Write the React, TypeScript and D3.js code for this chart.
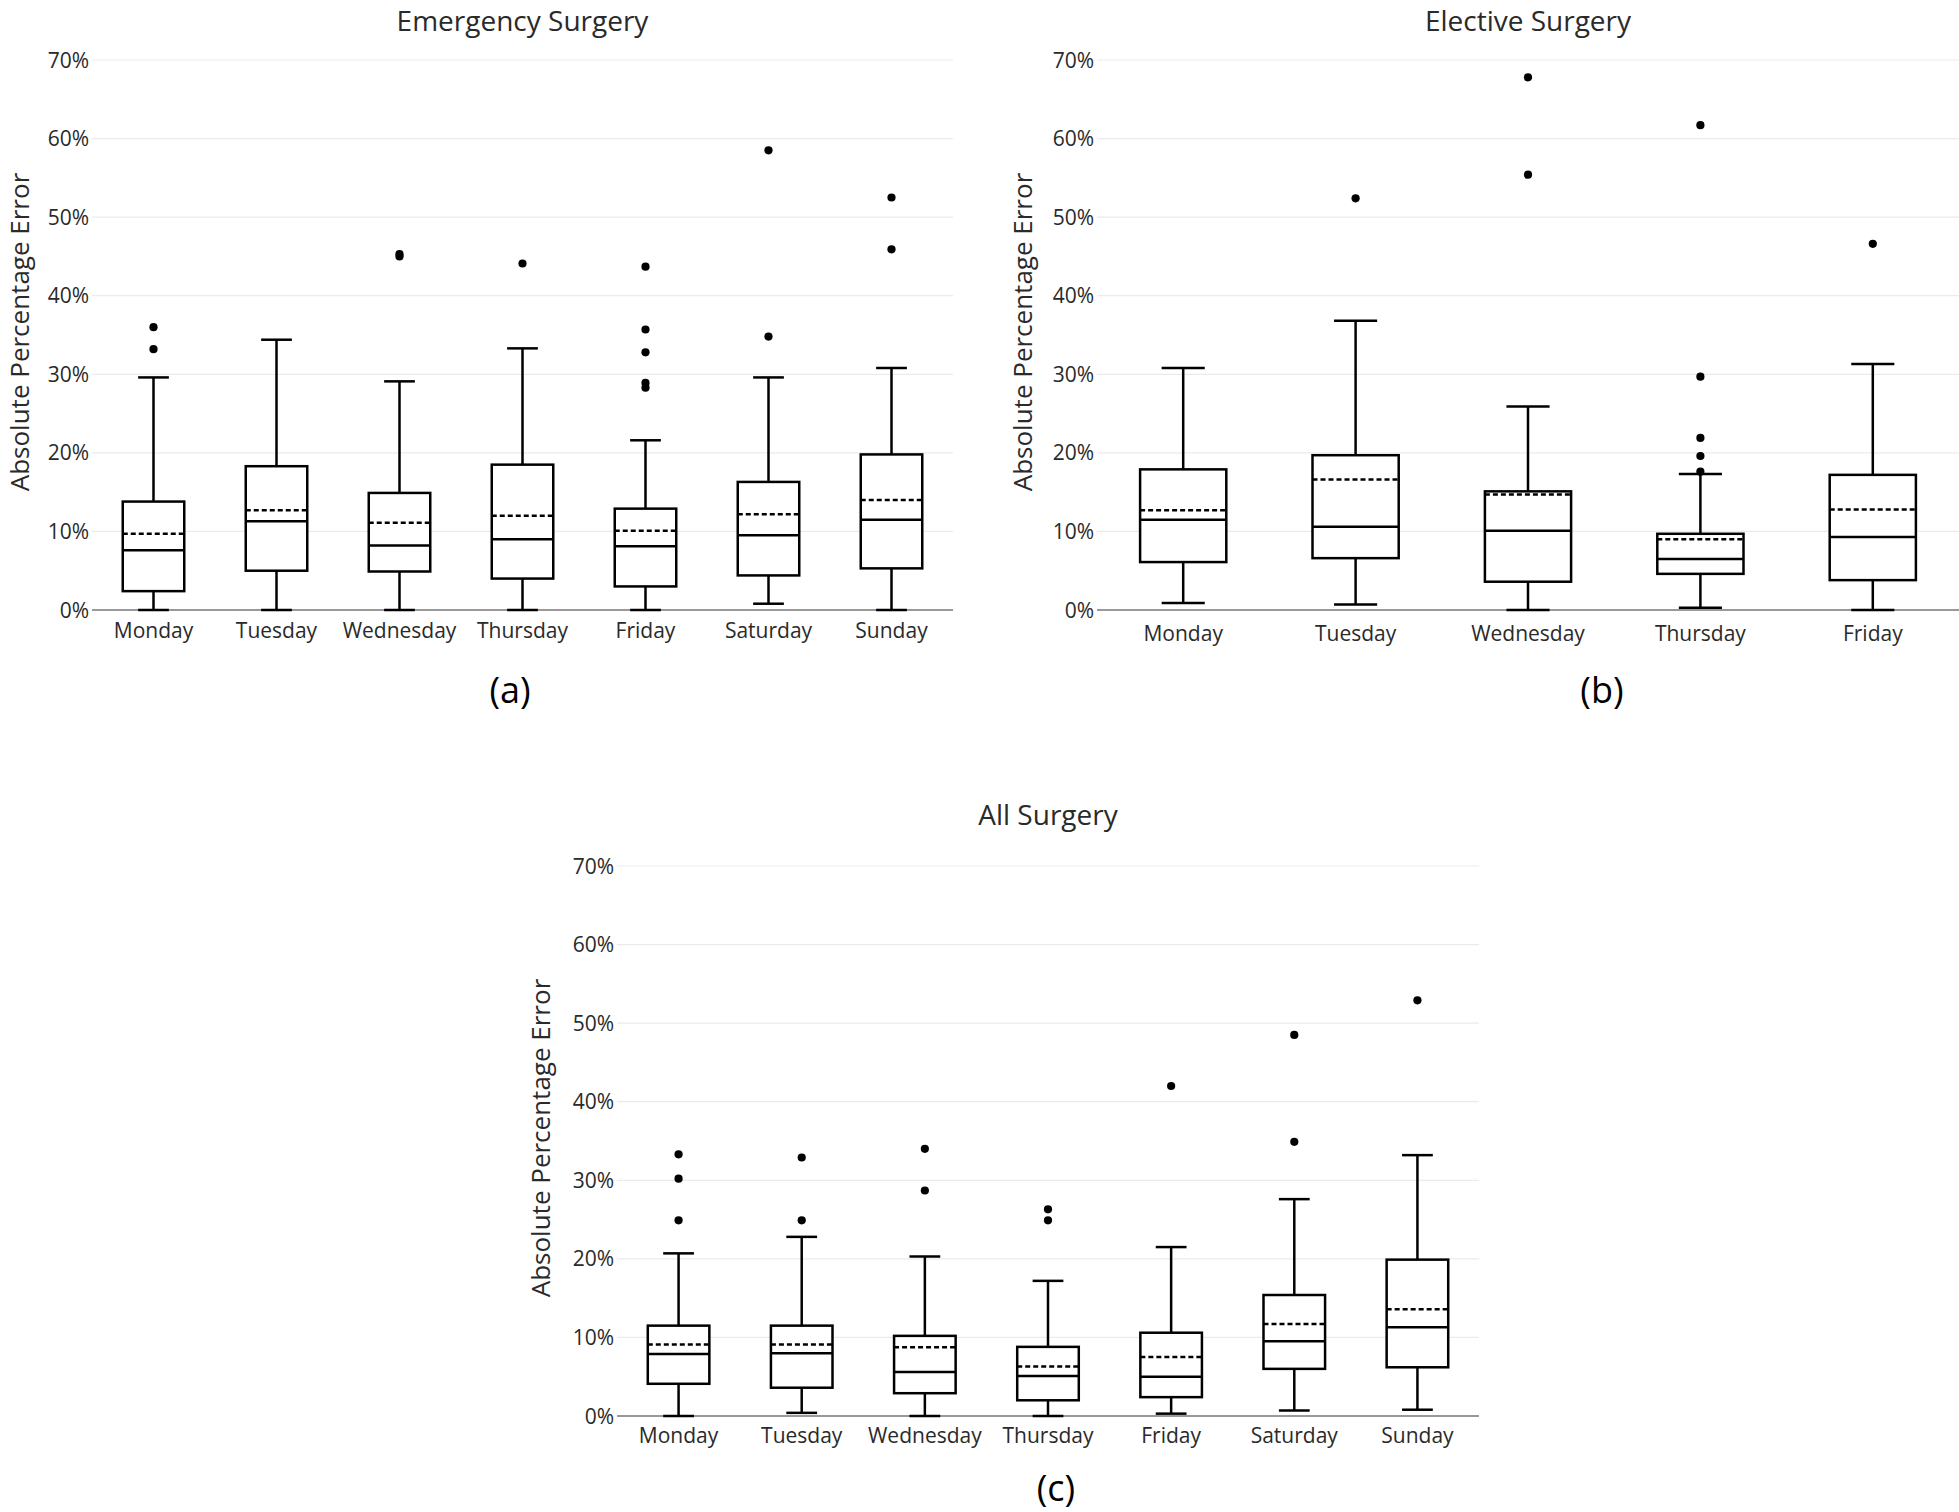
import React from "react";
import * as d3 from "d3";

// ---------- data ----------
const days7 = ["Monday", "Tuesday", "Wednesday", "Thursday", "Friday", "Saturday", "Sunday"];
const days5 = ["Monday", "Tuesday", "Wednesday", "Thursday", "Friday"];
const yTicks = [0, 10, 20, 30, 40, 50, 60, 70];

// Emergency surgery
const emLow = [0, 0, 0, 0, 0, 0.8, 0];
const emQ1 = [2.4, 5.0, 4.9, 4.0, 3.0, 4.4, 5.3];
const emMed = [7.6, 11.3, 8.2, 9.0, 8.1, 9.5, 11.5];
const emQ3 = [13.8, 18.3, 14.9, 18.5, 12.9, 16.3, 19.8];
const emHigh = [29.6, 34.4, 29.1, 33.3, 21.6, 29.6, 30.8];
const emMean = [9.7, 12.7, 11.1, 12.0, 10.1, 12.2, 14.0];
const emOut = [[36.0, 33.2], [], [45.0, 45.3], [44.1], [43.7, 35.7, 32.8, 28.9, 28.3], [58.5, 34.8], [52.5, 45.9]];

// Elective surgery
const elLow = [0.9, 0.7, 0, 0.3, 0];
const elQ1 = [6.1, 6.6, 3.6, 4.6, 3.8];
const elMed = [11.5, 10.6, 10.1, 6.5, 9.3];
const elQ3 = [17.9, 19.7, 15.1, 9.7, 17.2];
const elHigh = [30.8, 36.8, 25.9, 17.3, 31.3];
const elMean = [12.7, 16.6, 14.7, 9.0, 12.8];
const elOut = [[], [52.4], [67.8, 55.4], [61.7, 29.7, 21.9, 19.6, 17.6], [46.6]];

// All surgery
const alLow = [0, 0.4, 0, 0, 0.3, 0.7, 0.8];
const alQ1 = [4.1, 3.6, 2.9, 2.0, 2.4, 6.0, 6.2];
const alMed = [7.9, 8.0, 5.6, 5.1, 5.0, 9.5, 11.3];
const alQ3 = [11.5, 11.5, 10.2, 8.8, 10.6, 15.4, 19.9];
const alHigh = [20.7, 22.8, 20.3, 17.2, 21.5, 27.6, 33.2];
const alMean = [9.1, 9.1, 8.75, 6.3, 7.5, 11.7, 13.6];
const alOut = [[33.3, 30.2, 24.9], [32.9, 24.9], [34.0, 28.7], [26.3, 24.9], [42.0], [48.5, 34.9], [52.9]];

const FONT = "'Open Sans', sans-serif";
const TXT = "#2a2a2a";

type PanelProps = {
  title: string;
  label: string;
  cats: string[];
  low: number[];
  q1: number[];
  med: number[];
  q3: number[];
  high: number[];
  mean: number[];
  out: number[][];
  left: number;
  right: number;
  top: number;
  bottom: number;
  titleY: number;
  axisTitleX: number;
  catY: number;
  labelX: number;
  labelY: number;
};

function Panel(p: PanelProps) {
  const x = d3.scaleBand<string>().domain(p.cats).range([p.left, p.right]).paddingInner(0).paddingOuter(0);
  const y = d3.scaleLinear().domain([0, 70]).range([p.bottom, p.top]);
  const bw = x.bandwidth();
  const boxW = bw * 0.5;
  const capW = bw * 0.25;
  return (
    <g>
      {yTicks.filter((t) => t > 0).map((t) => (
        <line key={"g" + t} x1={p.left} x2={p.right} y1={y(t)} y2={y(t)} stroke="#ebebeb" strokeWidth={1.2} />
      ))}
      {yTicks.map((t) => (
        <text key={"t" + t} x={p.left - 3} y={y(t)} dy="0.36em" textAnchor="end" fontFamily={FONT} fontSize={21} fill={TXT}>
          {t + "%"}
        </text>
      ))}
      {p.cats.map((c) => (
        <text key={"c" + c} x={(x(c) as number) + bw / 2} y={p.catY} textAnchor="middle" fontFamily={FONT} fontSize={21} fill={TXT}>
          {c}
        </text>
      ))}
      <line x1={p.left} x2={p.right} y1={y(0)} y2={y(0)} stroke="#777" strokeWidth={1.6} />
      {p.cats.map((c, i) => {
        const cx = (x(c) as number) + bw / 2;
        return (
          <g key={"b" + c} stroke="#000" strokeWidth={2.5} fill="none">
            <line x1={cx} x2={cx} y1={y(p.q3[i])} y2={y(p.high[i])} />
            <line x1={cx} x2={cx} y1={y(p.q1[i])} y2={y(p.low[i])} />
            <line x1={cx - capW / 2} x2={cx + capW / 2} y1={y(p.high[i])} y2={y(p.high[i])} />
            <line x1={cx - capW / 2} x2={cx + capW / 2} y1={y(p.low[i])} y2={y(p.low[i])} />
            <rect x={cx - boxW / 2} y={y(p.q3[i])} width={boxW} height={y(p.q1[i]) - y(p.q3[i])} fill="#fff" />
            <line x1={cx - boxW / 2} x2={cx + boxW / 2} y1={y(p.med[i])} y2={y(p.med[i])} />
            <line x1={cx - boxW / 2} x2={cx + boxW / 2} y1={y(p.mean[i])} y2={y(p.mean[i])} strokeDasharray="5,3" />
            {p.out[i].map((v, k) => (
              <circle key={k} cx={cx} cy={y(v)} r={4.1} fill="#000" stroke="none" />
            ))}
          </g>
        );
      })}
      <text x={(p.left + p.right) / 2} y={p.titleY} textAnchor="middle" fontFamily={FONT} fontSize={28} fill={TXT}>
        {p.title}
      </text>
      <text
        transform={`translate(${p.axisTitleX},${(p.top + p.bottom) / 2 - 3}) rotate(-90)`}
        textAnchor="middle"
        fontFamily={FONT}
        fontSize={26}
        fill={TXT}
      >
        Absolute Percentage Error
      </text>
      <text x={p.labelX} y={p.labelY} textAnchor="middle" fontFamily={FONT} fontSize={36} fill="#000">
        {p.label}
      </text>
    </g>
  );
}

export default function App() {
  return (
    <svg width={1959} height={1512} style={{ position: "absolute", left: 0, top: 0, background: "#fff" }}>
      <rect width={1959} height={1512} fill="#fff" />
      <Panel
        title="Emergency Surgery"
        label="(a)"
        cats={days7}
        low={emLow}
        q1={emQ1}
        med={emMed}
        q3={emQ3}
        high={emHigh}
        mean={emMean}
        out={emOut}
        left={92}
        right={953}
        top={60}
        bottom={610}
        titleY={31}
        axisTitleX={29}
        catY={638}
        labelX={510}
        labelY={703}
      />
      <Panel
        title="Elective Surgery"
        label="(b)"
        cats={days5}
        low={elLow}
        q1={elQ1}
        med={elMed}
        q3={elQ3}
        high={elHigh}
        mean={elMean}
        out={elOut}
        left={1097}
        right={1959}
        top={60}
        bottom={610}
        titleY={31}
        axisTitleX={1032}
        catY={641}
        labelX={1602}
        labelY={703}
      />
      <Panel
        title="All Surgery"
        label="(c)"
        cats={days7}
        low={alLow}
        q1={alQ1}
        med={alMed}
        q3={alQ3}
        high={alHigh}
        mean={alMean}
        out={alOut}
        left={617}
        right={1479}
        top={866}
        bottom={1416}
        titleY={825}
        axisTitleX={550}
        catY={1443}
        labelX={1056}
        labelY={1501}
      />
    </svg>
  );
}
